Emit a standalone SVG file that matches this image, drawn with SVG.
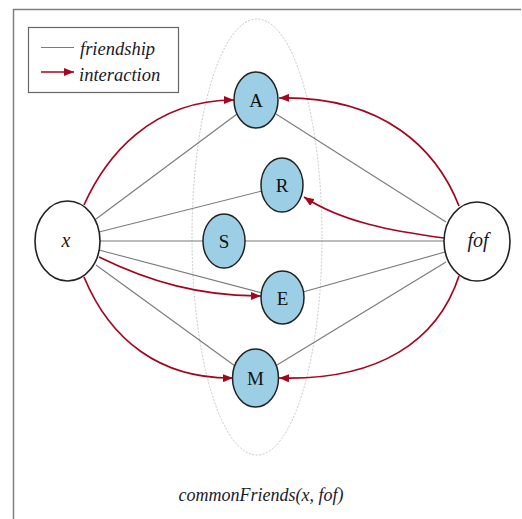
<svg xmlns="http://www.w3.org/2000/svg" width="522" height="519" viewBox="0 0 522 519">
<defs>
<marker id="ah" viewBox="0 0 10 8" refX="10" refY="4" markerWidth="10" markerHeight="8" markerUnits="userSpaceOnUse" orient="auto">
<path d="M0,0 L10,4 L0,8 Z" fill="#a3061f"/>
</marker>
<style>
.frame{fill:none;stroke:#808080;stroke-width:1.5}
.fr{stroke:#7a7a7a;stroke-width:1.1;fill:none}
.ia{stroke:#a3061f;stroke-width:1.7;fill:none;marker-end:url(#ah)}
.big{fill:#fff;stroke:#222;stroke-width:1.6}
.small{fill:#9ccfe6;stroke:#222;stroke-width:1.5}
.it{font-family:"Liberation Serif","DejaVu Serif",serif;font-style:italic;fill:#1a1a2a}
.lab{font-family:"Liberation Serif","DejaVu Serif",serif;font-size:19px;fill:#111;text-anchor:middle}
</style>
</defs>
<rect width="522" height="519" fill="#fff"/>
<path class="frame" d="M13.5,519 V9.5 H521"/>
<g id="legend">
<rect x="28.5" y="27.5" width="150" height="65" fill="#fff" stroke="#666" stroke-width="1.2"/>
<line x1="41" y1="47.5" x2="74" y2="47.5" class="fr"/>
<text x="80" y="55" class="it" font-size="18.5">friendship</text>
<line x1="41" y1="72" x2="74" y2="72" class="ia"/>
<text x="79" y="81" class="it" font-size="18.5">interaction</text>
</g>
<ellipse id="group" cx="257" cy="237" rx="65" ry="218" fill="none" stroke="#c8c8c8" stroke-width="1" stroke-dasharray="2,1.5"/>
<g id="connectors">
<line class="fr" x1="96" y1="219" x2="237" y2="114"/>
<line class="fr" x1="99" y1="232" x2="262" y2="191"/>
<line class="fr" x1="100" y1="241" x2="203" y2="241"/>
<line class="fr" x1="99" y1="250" x2="262" y2="293"/>
<line class="fr" x1="96" y1="265" x2="235" y2="366"/>
<line class="fr" x1="446" y1="222" x2="276" y2="114"/>
<line class="fr" x1="444" y1="241" x2="245" y2="241"/>
<line class="fr" x1="445" y1="252" x2="303" y2="292"/>
<line class="fr" x1="446" y1="262" x2="277" y2="365"/>
<path class="ia" d="M84,205 C105,158 150,100 234,100"/>
<path class="ia" d="M459,206 C437,150 385,96 279,98"/>
<path class="ia" d="M444,238 C392,231 342,222 304,197"/>
<path class="ia" d="M99,257 C150,282 200,296 261,296"/>
<path class="ia" d="M84,277 C110,340 160,379 233,378"/>
<path class="ia" d="M459,276 C438,340 380,381 279,378"/>
</g>
<g id="node-x"><ellipse class="big" cx="67.5" cy="241" rx="32.5" ry="40"/><text x="66" y="247" class="it" font-size="20" text-anchor="middle">x</text></g>
<g id="node-fof"><ellipse class="big" cx="477" cy="241.5" rx="33" ry="39.5"/><text x="478" y="247" class="it" font-size="20" text-anchor="middle">fof</text></g>
<g id="node-A"><ellipse class="small" cx="256" cy="100" rx="22" ry="28"/><text x="256" y="107" class="lab">A</text></g>
<g id="node-R"><ellipse class="small" cx="282" cy="185" rx="21" ry="27"/><text x="282" y="192" class="lab">R</text></g>
<g id="node-S"><ellipse class="small" cx="224" cy="241" rx="21" ry="27"/><text x="224" y="248" class="lab">S</text></g>
<g id="node-E"><ellipse class="small" cx="282.5" cy="297.5" rx="21.5" ry="26.5"/><text x="282.5" y="304.5" class="lab">E</text></g>
<g id="node-M"><ellipse class="small" cx="255.5" cy="378" rx="23" ry="29"/><text x="255.5" y="385" class="lab">M</text></g>
<text x="261" y="501" class="it" font-size="18" text-anchor="middle">commonFriends(x, fof)</text>
</svg>
